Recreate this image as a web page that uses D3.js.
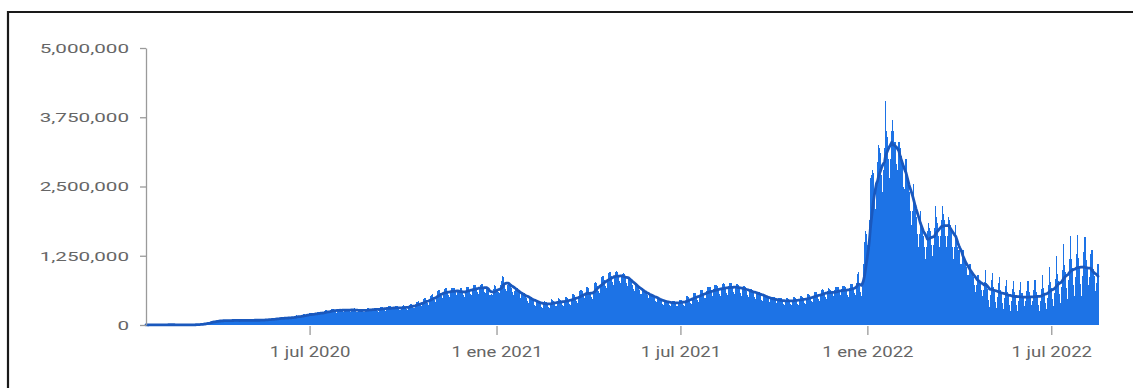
<!DOCTYPE html>
<html><head><meta charset="utf-8">
<script src="https://cdn.jsdelivr.net/npm/d3@7"></script>
<style>
html,body{margin:0;padding:0;background:#fff;}
svg{display:block;}
</style></head><body>
<svg id="chart" width="1133" height="388"></svg>
<script>
// Daily new cases (thousands), one row per week, first day 2020-01-22
const startDate = "2020-01-22";
const weeklyRowsK = [
[0.6,0.3,0.3,0.7,0.8,1.4,1.8],[1.7,2.0,2.1,2.6,2.8,3.2,3.9],[3.7,3.2,3.4,2.7,2.5,2.1,2.0],[2.0,15.2,6.5,2.2,2.2,2.1,1.9],
[0.5,0.9,1.0,1.5,1.0,0.9,0.8],[1.0,1.2,1.4,1.9,2.3,1.8,2.5],[2.3,2.7,3.8,4.1,3.9,4.0,4.6],[7.2,7.8,10.8,10.8,11.0,14.5,15.8],
[18,26,30,32,34,38,42],[50,62,64,66,60,58,66],[76,78,86,82,73,68,74],[84,88,92,80,74,72,73],
[83,96,88,86,80,72,74],[82,85,98,88,80,72,76],[84,88,92,86,78,74,80],[92,92,96,88,76,78,84],
[88,98,98,96,86,80,90],[100,106,108,104,100,95,98],[106,118,124,126,114,108,114],[124,130,132,130,122,114,122],
[134,138,148,136,132,126,136],[152,178,158,168,140,138,158],[172,196,194,188,172,164,172],[214,210,206,194,186,182,206],
[216,230,238,222,204,190,214],[242,260,262,248,228,212,236],[276,288,290,270,238,224,252],[292,292,294,266,244,232,250],
[286,296,294,270,246,236,270],[292,290,302,256,236,230,252],[282,290,286,262,240,236,258],[288,300,300,276,254,244,274],
[292,308,310,282,252,242,282],[318,326,326,300,270,258,292],[318,336,334,304,280,268,308],[330,338,336,304,272,270,300],
[342,352,348,320,288,274,304],[368,380,384,350,312,298,344],[414,424,430,390,354,334,380],[470,482,486,448,398,370,432],
[522,550,552,498,452,424,516],[614,626,630,570,516,490,570],[650,664,660,596,538,512,606],[660,674,676,610,548,520,608],
[640,620,664,600,538,512,596],[680,690,694,636,560,538,632],[716,726,730,660,594,562,668],[730,740,736,670,602,572,668],
[680,640,540,550,560,540,646],[720,700,620,640,600,580,724],[800,880,860,760,650,620,730],[760,760,740,670,590,540,620],
[660,660,640,570,480,450,560],[580,580,560,490,425,400,490],[500,500,480,430,370,345,430],[450,440,420,380,330,310,385],
[440,420,410,380,330,310,385],[470,450,440,405,350,335,415],[480,470,460,420,360,345,435],[510,500,490,450,385,365,465],
[560,560,540,495,425,400,505],[620,640,620,555,480,455,565],[680,660,600,565,500,465,605],[760,780,760,705,610,575,725],
[860,880,880,805,710,665,805],[930,960,950,885,785,730,885],[960,970,960,885,795,750,885],[920,940,920,845,765,710,845],
[820,820,800,725,655,620,725],[700,700,680,625,565,530,625],[620,610,600,545,490,455,545],[560,550,540,485,435,410,485],
[500,480,470,425,380,365,445],[450,440,440,405,360,335,405],[440,430,430,395,350,335,415],[460,460,450,415,360,345,435],
[520,520,510,465,405,385,495],[580,580,570,515,450,420,545],[640,640,630,565,490,465,605],[690,690,680,605,525,500,645],
[720,720,710,645,560,530,675],[740,750,740,665,580,540,695],[760,760,750,675,590,555,705],[740,740,730,655,570,530,685],
[700,700,690,615,535,500,625],[650,650,640,575,505,465,595],[600,600,590,535,460,430,545],[540,540,530,485,415,390,495],
[500,500,500,455,395,365,465],[480,480,480,435,385,355,445],[480,480,470,435,375,355,445],[500,500,490,445,385,365,465],
[520,520,510,465,405,375,485],[560,560,550,495,440,410,525],[600,600,590,535,470,440,565],[640,650,640,575,505,465,605],
[660,650,640,585,515,475,625],[690,680,680,615,540,495,655],[700,700,690,625,550,505,665],[740,740,740,665,585,550,760],
[920,960,700,600,520,720,1100],[1500,1700,1650,1450,1400,1900,2650],[2700,2800,2750,2300,2100,2600,2950],[3250,3200,3100,2700,2400,2800,3200],
[4050,3500,3400,3000,2650,3000,3500],[3700,3500,3300,2900,2500,2800,3300],[3200,3050,2900,2500,2150,2450,3000],[2700,2550,2400,2050,1800,2050,2550],
[2200,2050,1950,1650,1400,1650,2050],[1850,1700,1600,1400,1200,1400,1700],[1850,1750,1700,1450,1250,1450,1750],[2150,1950,1850,1600,1400,1600,1900],
[2150,2000,1900,1600,1400,1600,1950],[1900,1800,1700,1400,1200,1400,1800],[1500,1400,1350,1100,950,1100,1350],[1200,1100,1050,900,750,900,1100],
[1000,920,870,720,600,730,900],[900,820,760,630,520,640,770],[1000,750,650,460,330,550,810],[930,690,600,420,300,510,750],
[870,640,560,390,280,480,700],[810,600,520,360,260,440,650],[790,590,510,360,255,430,635],[780,575,500,350,250,425,620],
[800,590,510,355,255,430,630],[810,600,520,365,260,440,645],[900,670,580,405,290,490,725],[1040,770,670,470,335,570,835],
[1240,920,800,560,400,680,1000],[1470,1090,950,665,475,810,1190],[1600,1185,1030,720,515,875,1285],[1630,1210,1050,735,525,890,1310],
[1580,1170,1020,715,510,870,1275],[1360,1010,880,615,440,750,1100]
];
const yTickValues = [0, 1250000, 2500000, 3750000, 5000000];
const xTickDates = ["2020-07-01", "2021-01-01", "2021-07-01", "2022-01-01", "2022-07-01"];
const xTickLabels = ["1 jul 2020", "1 ene 2021", "1 jul 2021", "1 ene 2022", "1 jul 2022"];

const parse = d3.utcParse("%Y-%m-%d");
const start = parse(startDate);
const values = weeklyRowsK.flat().map(v => v * 1000);
const data = values.map((v, i) => ({ date: d3.utcDay.offset(start, i), value: v }));
// 7-day trailing average
data.forEach((d, i) => { d.avg = d3.mean(values.slice(Math.max(0, i - 6), i + 1)); });

const svg = d3.select("#chart");
const x = d3.scaleUtc().domain([start, data[data.length - 1].date]).range([146, 1098]);
const y = d3.scaleLinear().domain([0, 5000000]).range([325, 48]);
const step = x(data[1].date) - x(data[0].date);

// frame
svg.append("path").attr("d", "M8,388V12H1133").attr("fill", "none").attr("stroke", "#1a1a1a").attr("stroke-width", 2.2);

// bars
svg.append("g").attr("shape-rendering", "crispEdges").selectAll("rect").data(data).join("rect")
  .attr("x", d => x(d.date) - step / 2)
  .attr("y", d => y(d.value))
  .attr("width", step + 0.2)
  .attr("height", d => y(0) - y(d.value))
  .attr("fill", "#1d73e6");

// 7-day line
svg.append("path").datum(data)
  .attr("fill", "none").attr("stroke", "#1a58bd").attr("stroke-width", 2.8)
  .attr("stroke-linejoin", "round").attr("stroke-linecap", "round")
  .attr("d", d3.line().x(d => x(d.date)).y(d => y(d.avg)));

const sxY = 1.53, sxX = 1.28;
const labelColor = "#666666";
const axisColor = "#9a9a9a";

// y axis
const gy = svg.append("g").attr("transform", "translate(146,0)")
  .call(d3.axisLeft(y).tickValues(yTickValues).tickSize(6).tickSizeOuter(0).tickPadding(11).tickFormat(d3.format(",")));
gy.select(".domain").attr("stroke", axisColor).attr("stroke-width", 1.3);
gy.selectAll(".tick line").attr("stroke", axisColor).attr("stroke-width", 1.3);
gy.selectAll("text").attr("font-family", "Roboto, sans-serif").attr("font-size", 13.5).attr("fill", labelColor)
  .each(function () { const t = d3.select(this); t.attr("x", (+t.attr("x")) / sxY).attr("transform", `scale(${sxY},1)`); });

// x axis
const gx = svg.append("g").attr("transform", "translate(0,326)")
  .call(d3.axisBottom(x).tickValues(xTickDates.map(parse)).tickSize(9).tickPadding(12)
    .tickFormat((d, i) => xTickLabels[i]));
gx.select(".domain").remove();
gx.selectAll(".tick line").attr("stroke", axisColor).attr("stroke-width", 1.3);
gx.selectAll("text").attr("font-family", "Roboto, sans-serif").attr("font-size", 14.5).attr("fill", labelColor)
  .attr("transform", `scale(${sxX},1)`);
</script>
</body></html>
